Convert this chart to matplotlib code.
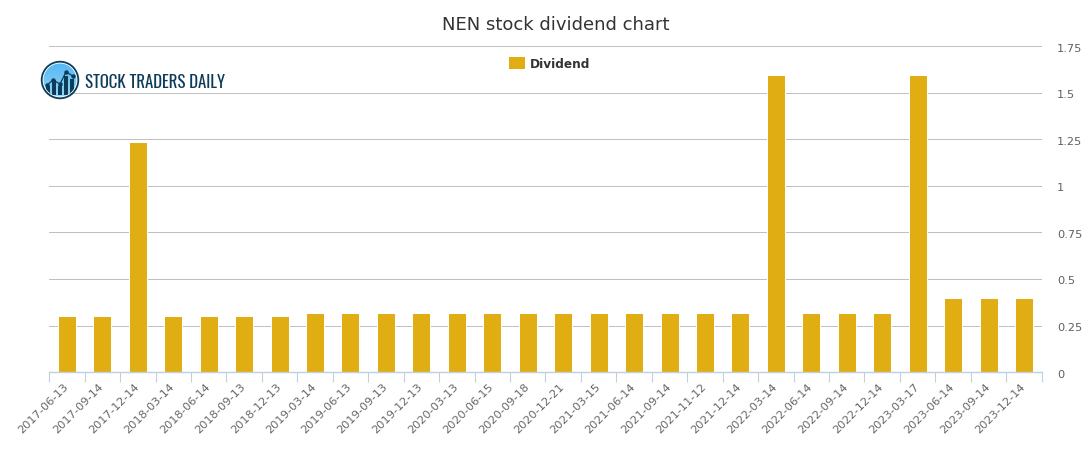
import matplotlib
matplotlib.use("Agg")
import matplotlib.pyplot as plt
import numpy as np
from matplotlib.patches import Circle, Rectangle
from matplotlib.ticker import FixedLocator, FuncFormatter
from matplotlib.transforms import ScaledTranslation

dates = ["2017-06-13", "2017-09-14", "2017-12-14", "2018-03-14", "2018-06-14", "2018-09-13", "2018-12-13",
         "2019-03-14", "2019-06-13", "2019-09-13", "2019-12-13", "2020-03-13", "2020-06-15", "2020-09-18",
         "2020-12-21", "2021-03-15", "2021-06-14", "2021-09-14", "2021-11-12", "2021-12-14", "2022-03-14",
         "2022-06-14", "2022-09-14", "2022-12-14", "2023-03-17", "2023-06-14", "2023-09-14", "2023-12-14"]
dividend = [0.30, 0.30, 1.235, 0.30, 0.30, 0.30, 0.30,
            0.315, 0.315, 0.315, 0.315, 0.315, 0.315, 0.315,
            0.315, 0.315, 0.315, 0.315, 0.315, 0.315, 1.595,
            0.315, 0.315, 0.315, 1.595, 0.397, 0.397, 0.397]
y_ticks = [0, 0.25, 0.5, 0.75, 1, 1.25, 1.5, 1.75]
y_labels = ["0", "0.25", "0.5", "0.75", "1", "1.25", "1.5", "1.75"]
title = "NEN stock dividend chart"
series_name = "Dividend"
brand = "STOCK TRADERS DAILY"

W, H = 1091, 450
GOLD = "#e0ad12"
fig = plt.figure(figsize=(W / 100, H / 100), dpi=100)
ax = fig.add_axes([49.2 / W, 1 - 372.2 / H, (1041.7 - 49.2) / W, (372.2 - 46.0) / H])

x = np.arange(len(dates))
ax.bar(x, dividend, width=0.508, color=GOLD, edgecolor="white", linewidth=0.72, zorder=3, label=series_name)
ax.set_xlim(-0.5, len(dates) - 0.5)
ax.set_ylim(0, 1.75)

for s in ["left", "top", "right"]:
    ax.spines[s].set_visible(False)
ax.spines["bottom"].set_color("#c0d0e0")
ax.spines["bottom"].set_linewidth(1)
ax.spines["bottom"].set_zorder(4)

ax.yaxis.tick_right()
ax.set_yticks(y_ticks, y_labels)
ax.tick_params(axis="y", length=0, pad=11, labelsize=8.2, labelcolor="#606060")
down = ScaledTranslation(0, -1.5 / 100, fig.dpi_scale_trans)
for lab in ax.get_yticklabels():
    lab.set_transform(lab.get_transform() + down)
ax.grid(axis="y", color="#c0c0c0", linewidth=0.72, zorder=0)
ax.set_axisbelow(True)

ax.xaxis.set_major_locator(FixedLocator(np.arange(len(dates) + 1) - 0.5))
ax.xaxis.set_major_formatter(FuncFormatter(lambda v, p: ""))
ax.tick_params(axis="x", length=7, width=0.8, color="#c0d0e0")
for i, d in enumerate(dates):
    ax.annotate(d, (i, 0), xycoords=("data", "axes fraction"), xytext=(-2.8, -7), textcoords="offset points",
                rotation=45, rotation_mode="anchor", ha="right", va="top", fontsize=8.2, color="#666666",
                annotation_clip=False)

fig.text(556 / W, 1 - 24.5 / H, title, fontsize=13, color="#333333", ha="center", va="center")

# legend
ov = fig.add_axes([0, 0, 1, 1], facecolor="none")
ov.set_xlim(0, W)
ov.set_ylim(H, 0)
ov.axis("off")
ov.add_patch(Rectangle((509, 57), 16, 12, color=GOLD, lw=0))
ov.text(530, 64, series_name, fontsize=8.7, fontweight="bold", color="#333333", va="center", ha="left")

# logo
cx, cy = 60, 80
DARK = "#0d3c5a"
grad = np.linspace(0, 1, 64)[:, None]
sky = ov.imshow(np.dstack([0.33 + 0.25 * grad, 0.72 + 0.12 * grad, 0.96 + 0 * grad]),
                extent=(cx - 17, cx + 17, cy + 17, cy - 17), aspect="auto", zorder=2)
clip = Circle((cx, cy), 16.5, transform=ov.transData)
sky.set_clip_path(clip)
ov.set_xlim(0, W)
ov.set_ylim(H, 0)
ov.add_patch(Circle((cx, cy), 18.3, fill=False, ec=DARK, lw=1.3, zorder=4))
for bx, bh in [(46, 9), (52, 15), (58, 9), (64, 19), (70, 16)]:
    r = Rectangle((bx, cy + 15 - bh), 4, bh, color=DARK, lw=0, zorder=3)
    ov.add_patch(r)
    r.set_clip_path(clip)
ov.plot([47, 53, 60, 66, 73], [85, 80, 84, 72, 76], color=DARK, lw=0.9, marker="o", ms=2.2, zorder=3)
ov.text(85, 82, brand, fontsize=12.1, color=DARK, va="center", ha="left",
        family=["Oswald", "Sofia Sans Extra Condensed", "DejaVu Sans"])

fig.savefig("out.png", dpi=100, facecolor="white")
